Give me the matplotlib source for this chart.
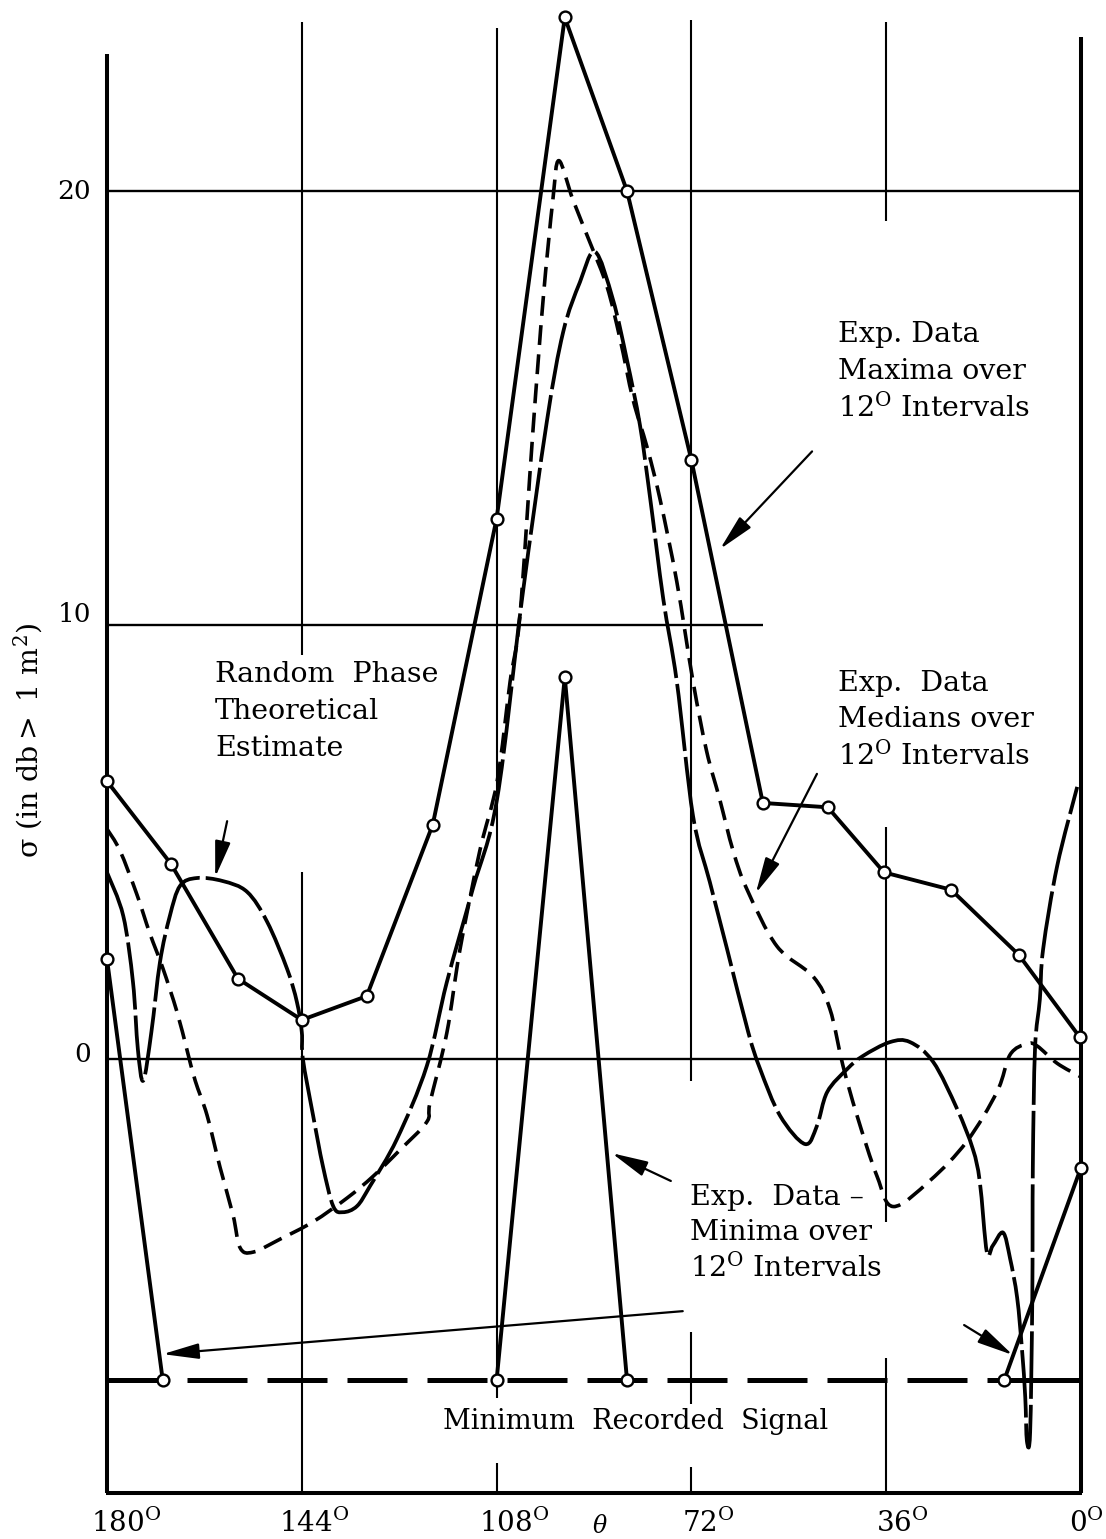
import matplotlib
matplotlib.use("Agg")
import matplotlib.pyplot as plt
from matplotlib.path import Path
from matplotlib.patches import PathPatch

plt.rcParams["mathtext.default"] = "regular"

# ---------------------------------------------------------------- data
theta_ticks = [180, 144, 108, 72, 36, 0]
theta_tick_labels = ["180", "144", "108", "72", "36", "0"]
sigma_ticks = [20, 10, 0]
sigma_tick_labels = ["20", "10", "0"]

# experimental maxima over 12 deg intervals
max_theta = [180, 168.2, 155.8, 144, 132, 119.8, 108, 95.4, 83.9, 72, 58.8,
             46.8, 36.4, 24, 11.5, 0.2]
max_sigma = [6.4, 4.5, 1.85, 0.9, 1.45, 5.4, 12.45, 24.0, 20.0, 13.8, 5.9,
             5.8, 4.3, 3.9, 2.4, 0.5]

# experimental minima over 12 deg intervals (floor = minimum recorded signal)
min_theta = [180, 169.7, 108, 95.4, 83.9, 14.2, 0]
min_sigma = [2.3, -7.4, -7.4, 8.8, -7.4, -7.4, -2.5]

min_recorded = -7.4

# experimental medians over 12 deg intervals
median_theta = [180.0, 177.6, 174.5, 172.1, 169.7, 167.1, 165.2, 163.7, 161.5,
                159.1, 156.7, 155.4, 153.0, 148.0, 141.9, 135.6, 130.8, 125.9,
                120.9, 120.3, 117.2, 114.8, 111.1, 107.9, 105.5, 103.7, 101.3,
                99.4, 97.6, 96.5, 93.9, 90.7, 87.6, 85.2, 82.8, 80.2, 77.8,
                74.7, 71.7, 69.2, 66.8, 64.3, 61.7, 56.2, 49.5, 46.4, 44.0,
                41.4, 37.7, 34.7, 27.9, 21.1, 15.5, 13.1, 10.0, 8.1, 4.4, 0.2]
median_sigma = [5.3, 4.8, 3.8, 2.9, 2.1, 1.1, 0.2, -0.5, -1.3,
                -2.5, -3.6, -4.35, -4.45, -4.15, -3.75, -3.2, -2.7, -2.1,
                -1.45, -1.0, 0.6, 2.5, 4.8, 6.4, 8.7, 10.2, 14.45,
                17.5, 19.8, 20.7, 19.8, 18.8, 17.8, 16.6, 15.2, 14.1, 12.9,
                11.0, 8.7, 7.1, 6.0, 4.8, 3.9, 2.6, 1.9, 1.15, -0.15,
                -1.3, -2.7, -3.4, -2.8, -1.9, -0.75, 0.1, 0.35, 0.3, -0.1, -0.4]

# random phase theoretical estimate
rp_theta = [180.0, 177.0, 175.2, 174.3, 173.3, 171.8, 170.2, 168.4, 166.5,
            163.4, 158.6, 154.1, 150.4, 146.7, 144.9, 144.0, 143.8, 141.9,
            140.1, 138.2, 136.4, 133.8, 131.4, 126.4, 120.9, 117.2, 112.4,
            107.9, 103.3, 98.7, 95.7, 92.6, 89.8, 86.5, 83.9, 81.5, 79.6,
            77.2, 74.7, 71.7, 68.6, 65.4, 61.5, 59.3, 55.6, 51.0, 48.8, 46.9,
            43.2, 40.3, 35.3, 31.6, 27.3, 22.9, 20.0, 18.7, 17.4, 16.3, 14.4,
            13.1, 11.8, 10.9, 10.3, 10.0, 9.4, 9.0, 8.9, 8.5, 7.6, 7.0, 4.4,
            0.7]
rp_sigma = [4.3, 3.3, 1.77, 0.23, -0.5, 0.62, 2.24, 3.29, 3.99,
            4.17, 4.1, 3.85, 3.16, 2.07, 1.31, 0.62, 0.0, -1.31,
            -2.47, -3.39, -3.53, -3.39, -2.93, -1.84, -0.16, 1.77, 3.92,
            6.0, 10.6, 14.7, 16.75, 17.9, 18.6, 17.5, 16.1, 14.6, 12.9,
            10.6, 8.7, 5.6, 4.08, 2.53, 0.62, -0.23, -1.31, -1.96, -1.54, -0.76,
            -0.23, 0.07, 0.39, 0.39, -0.07, -1.15, -2.07, -2.83, -4.45, -4.3, -4.0,
            -4.6, -5.5, -6.7, -7.8, -8.8, -8.6, -5.5, -2.47, 0.23, 1.38, 2.53, 4.45,
            6.27]

# ---------------------------------------------------------------- figure
W, H = 1106, 1539
fig = plt.figure(figsize=(W / 100, H / 100), dpi=100)
fig.patch.set_facecolor("white")
ax = fig.add_axes([107 / W, 46 / H, 974 / W, 1488.6 / H])
ax.set_xlim(180, 0)
ax.set_ylim(-10, 24.3)
ax.axis("off")

K = "black"
GRID_LW = 1.5
FRAME_LW = 2.9
CURVE_LW = 2.8
serif = "DejaVu Serif"


def seg(x0, x1, y0, y1, lw=GRID_LW, **kw):
    ax.plot([x0, x1], [y0, y1], color=K, lw=lw, solid_capstyle="butt",
            clip_on=False, **kw)


def smooth_curve(xs, ys, **style):
    """Draw a smooth (Catmull-Rom / cubic Bezier) stroke through the points."""
    pts = list(zip(xs, ys))
    n = len(pts)
    verts = [pts[0]]
    codes = [Path.MOVETO]
    for i in range(n - 1):
        p0 = pts[i - 1] if i > 0 else pts[i]
        p1, p2 = pts[i], pts[i + 1]
        p3 = pts[i + 2] if i + 2 < n else pts[i + 1]
        c1 = (p1[0] + (p2[0] - p0[0]) / 6, p1[1] + (p2[1] - p0[1]) / 6)
        c2 = (p2[0] - (p3[0] - p1[0]) / 6, p2[1] - (p3[1] - p1[1]) / 6)
        verts += [c1, c2, p2]
        codes += [Path.CURVE4] * 3
    patch = PathPatch(Path(verts, codes), fill=False, edgecolor=K,
                      capstyle="butt", joinstyle="round", clip_on=False,
                      **style)
    ax.add_patch(patch)


# frame
seg(180, 180, -10, 23.15, lw=FRAME_LW)
seg(0, 0, -10, 23.55, lw=FRAME_LW)
seg(180.25, -0.25, -10, -10, lw=FRAME_LW)

# horizontal rulings
seg(180, 0, 20, 20, lw=1.7)
seg(180, 58.8, 10, 10, lw=1.7)
seg(180, 0, 0, 0, lw=1.7)

# vertical rulings, interrupted where the lettering sits
vertical_rulings = {
    144: [(23.9, 9.3), (4.3, -10)],
    108: [(23.75, -7.8), (-9.3, -10)],
    72: [(23.95, -0.5), (-6.3, -7.95), (-9.4, -10)],
    36: [(23.9, 19.3), (5.35, -3.75), (-6.9, -10)],
}
for xv, pieces in vertical_rulings.items():
    for top, bot in pieces:
        seg(xv, xv, top, bot)

# minimum recorded signal
ax.plot([180, 9.5], [min_recorded, min_recorded], color=K, lw=3.6,
        linestyle=(0, (12, 4)), dash_capstyle="butt", clip_on=False)
seg(9.5, 0, min_recorded, min_recorded, lw=3.6)

# medians (short dashes)
smooth_curve(median_theta, median_sigma, lw=2.6, linestyle=(0, (5.5, 2.6)))

# random phase estimate (long dashes)
smooth_curve(rp_theta, rp_sigma, lw=2.7, linestyle=(0, (18, 1.6)))

# maxima
ax.plot(max_theta, max_sigma, color=K, lw=CURVE_LW, clip_on=False, zorder=4)
ax.plot(max_theta, max_sigma, linestyle="none", marker="o", ms=8.5,
        mfc="white", mec=K, mew=1.7, clip_on=False, zorder=6)

# minima: solid only where the record rises above the floor
for i in range(len(min_theta) - 1):
    if min_sigma[i] == min_recorded and min_sigma[i + 1] == min_recorded:
        continue
    ax.plot(min_theta[i:i + 2], min_sigma[i:i + 2], color=K, lw=CURVE_LW,
            clip_on=False, zorder=4)
ax.plot(min_theta, min_sigma, linestyle="none", marker="o", ms=8.5,
        mfc="white", mec=K, mew=1.7, clip_on=False, zorder=6)

# ---------------------------------------------------------------- labels
tick_shift = [-3.5, -2.3, -3.2, -3.1, -2.9, -1.1]
for t, lab, dx in zip(theta_ticks, theta_tick_labels, tick_shift):
    ax.text(t + dx, -10.9, lab + r"$^{O}$", ha="center", va="baseline",
            fontsize=20, family=serif, clip_on=False)
ax.text(88.9, -10.78, r"$\theta$", ha="center", va="center", fontsize=17,
        family=serif, style="italic", clip_on=False)

sigma_label_lift = [0.0, 0.25, 0.1]
for v, lab, dy in zip(sigma_ticks, sigma_tick_labels, sigma_label_lift):
    ax.text(183.0, v + dy, lab, ha="right", va="center", fontsize=19,
            family=serif, clip_on=False)

ax.text(194.6, 7.35, r"σ (in db$>$ 1 m$^{2}$)", rotation=90, ha="center",
        va="center", fontsize=20.5, family=serif, clip_on=False)


def stacked(x, y_first, lines, step=0.85, size=20.5):
    for k, line in enumerate(lines):
        ax.text(x, y_first - k * step, line, ha="left", va="center",
                fontsize=size, family=serif, clip_on=False)


stacked(44.9, 16.7, ["Exp. Data", "Maxima over", r"12$^{O}$ Intervals"])
stacked(44.9, 8.65, ["Exp.  Data", "Medians over", r"12$^{O}$ Intervals"],
        step=0.83)
stacked(160.0, 8.85, ["Random  Phase", "Theoretical", "Estimate"])
stacked(72.3, -3.2, ["Exp.  Data \u2013", "Minima over", r"12$^{O}$ Intervals"],
        step=0.8)
ax.text(82.4, -8.36, "Minimum  Recorded  Signal", ha="center", va="center",
        fontsize=19.5, family=serif, clip_on=False)

# pointer arrows: (tail, head)
pointers = [
    ((49.7, 14.0), (66.7, 11.75)),
    ((48.8, 6.57), (60.1, 3.82)),
    ((157.8, 5.48), (160.0, 4.19)),
    ((75.8, -2.81), (86.7, -2.17)),
    ((73.6, -5.81), (169.7, -6.8)),
    ((21.6, -6.13), (12.6, -6.82)),
]
for tail, head in pointers:
    ax.annotate("", xy=head, xytext=tail, annotation_clip=False,
                arrowprops=dict(arrowstyle="-|>,head_length=1.3,head_width=0.28",
                                color=K, lw=1.6, mutation_scale=17,
                                shrinkA=0, shrinkB=0))

fig.savefig("out.png", dpi=100, facecolor="white")
